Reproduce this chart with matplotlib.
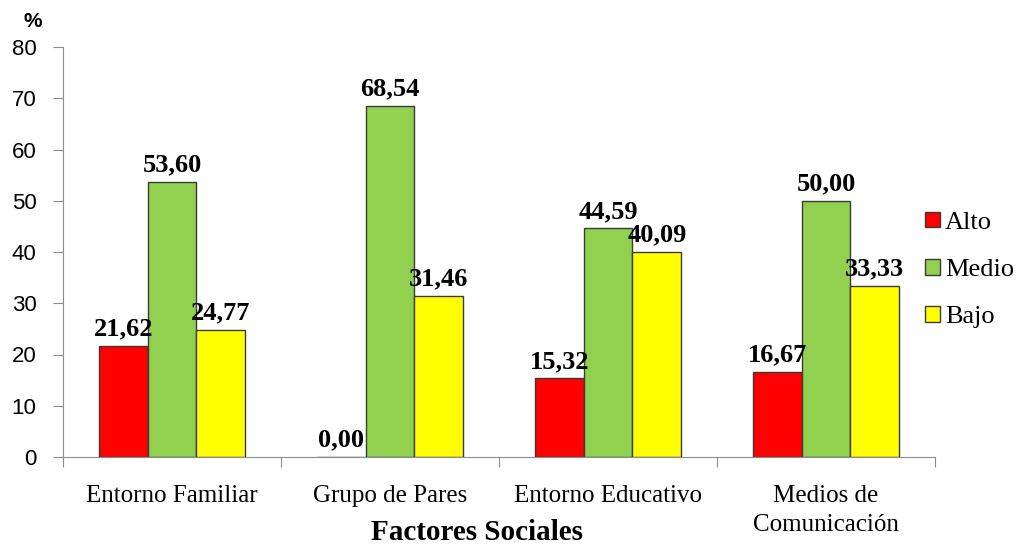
import matplotlib.pyplot as plt
import numpy as np

# ---- Chart data ----
CATEGORIES = ["Entorno Familiar", "Grupo de Pares", "Entorno Educativo",
              "Medios de\nComunicación"]
SERIES = ["Alto", "Medio", "Bajo"]
ALTO = [21.62, 0.00, 15.32, 16.67]
MEDIO = [53.60, 68.54, 44.59, 50.00]
BAJO = [24.77, 31.46, 40.09, 33.33]
COLORS = ["#FF0000", "#92D050", "#FFFF00"]

SERIF = ["Liberation Serif", "DejaVu Serif"]
SANS = ["Liberation Sans", "DejaVu Sans"]


def main():
    fig = plt.figure(figsize=(10.26, 5.46), dpi=100)
    ax = fig.add_axes([63 / 1026, 89 / 546, 872 / 1026, 410 / 546])

    x = np.arange(len(CATEGORIES))
    width = 0.224
    values = [ALTO, MEDIO, BAJO]

    for i, (name, vals, color) in enumerate(zip(SERIES, values, COLORS)):
        pos = x + (i - 1) * width
        bars = ax.bar(pos, vals, width, color=color, edgecolor="#3a3a3a",
                      linewidth=1.0, label=name)
        for rect, v in zip(bars, vals):
            ax.annotate(f"{v:.2f}".replace(".", ","),
                        (rect.get_x() + rect.get_width() / 2, rect.get_height()),
                        xytext=(0, 4), textcoords="offset points",
                        ha="center", va="bottom", fontsize=19,
                        fontweight="bold", family=SERIF)

    ax.set_xlim(-0.5, len(CATEGORIES) - 0.5)
    ax.set_ylim(0, 80)
    ax.set_yticks(range(0, 81, 10))

    # major ticks at category boundaries, labels on minor ticks at centers
    ax.set_xticks(np.arange(-0.5, len(CATEGORIES), 1.0))
    ax.set_xticklabels([])
    ax.set_xticks(x, minor=True)
    ax.set_xticklabels(CATEGORIES, minor=True, family=SERIF, fontsize=18,
                       linespacing=1.45)
    ax.tick_params(axis="x", which="minor", length=0, pad=20)
    ax.tick_params(axis="x", which="major", length=7, color="#8c8c8c")
    ax.tick_params(axis="y", length=7, color="#8c8c8c", pad=12,
                   labelsize=16)
    for lab in ax.get_yticklabels():
        lab.set_family(SANS)

    for side in ("top", "right"):
        ax.spines[side].set_visible(False)
    for side in ("left", "bottom"):
        ax.spines[side].set_color("#8c8c8c")

    fig.text(23 / 1026, 1 - 27 / 546, "%", fontsize=15, fontweight="bold",
             family=SANS, ha="left", va="baseline")
    fig.text(477 / 1026, 1 - 519 / 546, "Factores Sociales", fontsize=21,
             fontweight="bold", family=SERIF, ha="center", va="top")

    fig.legend(loc="center left", bbox_to_anchor=(925 / 1026, 1 - 270 / 546),
               frameon=False, prop={"family": SERIF, "size": 19},
               handlelength=0.55, handleheight=0.55, handletextpad=0.2,
               labelspacing=0.95, borderpad=0, borderaxespad=0)

    fig.savefig("out.png", dpi=100)


if __name__ == "__main__":
    main()
